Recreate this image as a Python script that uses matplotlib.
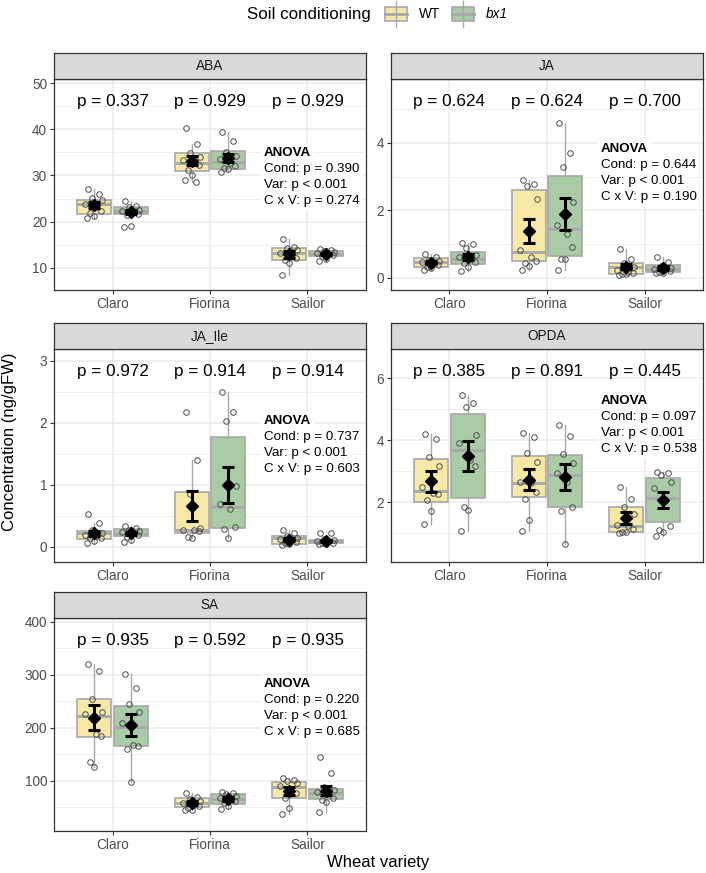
import matplotlib
matplotlib.use('Agg')
import matplotlib.pyplot as plt
import matplotlib.transforms as mtrans
from matplotlib.patches import Rectangle
from matplotlib.ticker import AutoMinorLocator

plt.rcParams['font.family'] = ['Liberation Sans', 'DejaVu Sans']

# ---------------- data ----------------
varieties = ['Claro', 'Fiorina', 'Sailor']
conditions = ['WT', 'bx1']
hormones = ['ABA', 'JA', 'JA_Ile', 'OPDA', 'SA']

# box stats per variety: [whislo, q1, median, q3, whishi]
ABA_WT_pts = [[27.1, 26.0, 25.2, 24.7, 23.8, 23.2, 22.3, 21.8, 21.2, 20.7],
              [40.2, 36.8, 34.8, 34.1, 33.4, 33.0, 32.3, 31.2, 30.1, 29.0, 28.5],
              [16.2, 14.6, 14.2, 13.8, 13.3, 12.8, 12.2, 11.8, 11.1, 8.5]]
ABA_WT_box = [[20.7, 21.65, 23.75, 24.8, 27.1], [28.5, 31.0, 32.8, 34.8, 36.8], [8.5, 11.8, 13.2, 14.2, 16.2]]
ABA_WT_mean = [23.6, 33.2, 12.9]
ABA_WT_se = [0.65, 1.0, 0.7]
ABA_BX_pts = [[24.5, 23.4, 23.1, 22.6, 22.3, 22.0, 21.7, 21.4, 19.1, 18.9],
              [39.4, 37.4, 35.0, 34.2, 33.6, 32.7, 32.0, 31.6, 31.3, 30.8],
              [14.0, 13.8, 13.6, 13.4, 13.2, 13.0, 12.8, 12.5, 12.0, 11.5]]
ABA_BX_box = [[21.4, 21.65, 22.3, 23.1, 24.5], [30.8, 31.4, 32.9, 35.3, 39.4], [11.5, 12.6, 13.0, 13.7, 14.0]]
ABA_BX_mean = [22.1, 33.8, 13.0]
ABA_BX_se = [0.5, 0.8, 0.25]

JA_WT_pts = [[0.72, 0.62, 0.54, 0.50, 0.47, 0.43, 0.38, 0.33, 0.28, 0.22],
             [2.89, 2.77, 2.71, 2.34, 0.82, 0.62, 0.49, 0.43, 0.35, 0.23],
             [0.84, 0.57, 0.43, 0.33, 0.23, 0.17, 0.13, 0.11, 0.10, 0.09]]
JA_WT_box = [[0.22, 0.33, 0.46, 0.58, 0.72], [0.23, 0.50, 0.77, 2.60, 2.89], [0.09, 0.11, 0.31, 0.43, 0.84]]
JA_WT_mean = [0.45, 1.38, 0.33]
JA_WT_se = [0.05, 0.36, 0.08]
JA_BX_pts = [[1.02, 1.00, 0.88, 0.68, 0.61, 0.55, 0.48, 0.43, 0.33, 0.20],
             [4.58, 3.69, 3.27, 2.25, 1.58, 1.30, 0.92, 0.57, 0.55, 0.23],
             [0.62, 0.47, 0.35, 0.30, 0.27, 0.25, 0.21, 0.17, 0.15, 0.13]]
JA_BX_box = [[0.20, 0.41, 0.56, 0.77, 1.02], [0.23, 0.65, 1.44, 3.01, 4.58], [0.13, 0.17, 0.27, 0.37, 0.62]]
JA_BX_mean = [0.62, 1.89, 0.29]
JA_BX_se = [0.09, 0.48, 0.05]

JAIle_WT_pts = [[0.53, 0.39, 0.27, 0.23, 0.20, 0.17, 0.15, 0.14, 0.10, 0.07],
                [2.18, 1.40, 0.85, 0.30, 0.28, 0.27, 0.25, 0.16, 0.15],
                [0.28, 0.22, 0.18, 0.15, 0.13, 0.11, 0.08, 0.06, 0.05, 0.04]]
JAIle_WT_box = [[0.07, 0.13, 0.22, 0.26, 0.39], [0.15, 0.22, 0.27, 0.89, 1.40], [0.04, 0.05, 0.14, 0.18, 0.28]]
JAIle_WT_mean = [0.22, 0.66, 0.12]
JAIle_WT_se = [0.04, 0.24, 0.025]
JAIle_BX_pts = [[0.34, 0.31, 0.27, 0.25, 0.24, 0.22, 0.19, 0.16, 0.11, 0.08],
                [2.49, 2.17, 2.03, 0.99, 0.69, 0.62, 0.33, 0.29, 0.14],
                [0.23, 0.22, 0.13, 0.11, 0.10, 0.09, 0.07, 0.06, 0.05, 0.05]]
JAIle_BX_box = [[0.08, 0.17, 0.21, 0.29, 0.34], [0.14, 0.30, 0.65, 1.77, 2.49], [0.05, 0.06, 0.09, 0.12, 0.13]]
JAIle_BX_mean = [0.22, 1.00, 0.10]
JAIle_BX_se = [0.025, 0.285, 0.02]

OPDA_WT_pts = [[4.20, 4.04, 3.47, 3.17, 2.48, 2.29, 2.26, 2.07, 1.73, 1.30],
               [4.22, 4.09, 3.60, 3.29, 2.65, 2.62, 2.34, 2.11, 1.41, 1.07],
               [2.50, 2.11, 1.86, 1.62, 1.28, 1.22, 1.12, 1.05, 1.03, 1.00]]
OPDA_WT_box = [[1.30, 2.02, 2.35, 3.39, 4.20], [1.07, 2.18, 2.61, 3.50, 4.22], [1.00, 1.05, 1.24, 1.86, 2.50]]
OPDA_WT_mean = [2.67, 2.73, 1.50]
OPDA_WT_se = [0.33, 0.34, 0.19]
OPDA_BX_pts = [[5.46, 5.19, 5.06, 4.17, 3.90, 3.36, 3.17, 1.84, 1.75, 1.07],
               [4.49, 4.14, 3.55, 3.27, 2.94, 2.64, 1.83, 1.73, 0.64],
               [2.96, 2.93, 2.88, 2.66, 2.45, 2.05, 1.24, 1.10, 1.05, 0.90]]
OPDA_BX_box = [[1.07, 2.15, 3.68, 4.84, 5.46], [0.64, 1.84, 2.88, 3.52, 4.49], [0.90, 1.37, 2.15, 2.79, 2.96]]
OPDA_BX_mean = [3.50, 2.81, 2.08]
OPDA_BX_se = [0.49, 0.41, 0.26]

SA_WT_pts = [[320, 307, 255, 230, 225, 189, 184, 135, 126],
             [76, 70, 65, 62, 58, 55, 52, 48, 45, 44],
             [106, 102, 100, 95, 90, 82, 76, 67, 48, 37]]
SA_WT_box = [[126, 183, 222, 254, 320], [44, 51, 57, 68, 76], [37, 68, 89, 98, 106]]
SA_WT_mean = [219, 57.5, 80.3]
SA_WT_se = [23, 3.5, 7]
SA_BX_pts = [[301, 274, 245, 230, 209, 167, 165, 160, 98],
             [79, 77, 75, 72, 68, 65, 62, 58, 52, 46],
             [145, 114, 89, 83, 78, 74, 68, 63, 60, 41]]
SA_BX_box = [[98, 165.5, 201, 241.5, 301], [46, 55.5, 65, 74, 79], [41, 65.5, 76, 84, 89]]
SA_BX_mean = [205, 65.4, 81.5]
SA_BX_se = [20, 3.2, 9]

pvals_ABA = ['0.337', '0.929', '0.929']
pvals_JA = ['0.624', '0.624', '0.700']
pvals_JAIle = ['0.972', '0.914', '0.914']
pvals_OPDA = ['0.385', '0.891', '0.445']
pvals_SA = ['0.935', '0.592', '0.935']

anova_ABA = ['p = 0.390', 'p < 0.001', 'p = 0.274']
anova_JA = ['p = 0.644', 'p < 0.001', 'p = 0.190']
anova_JAIle = ['p = 0.737', 'p < 0.001', 'p = 0.603']
anova_OPDA = ['p = 0.097', 'p < 0.001', 'p = 0.538']
anova_SA = ['p = 0.220', 'p < 0.001', 'p = 0.685']

# ---------------- styling / layout ----------------
W, H = 706, 873
WT_COL = '#F8E8A6'
BX_COL = '#A9CCA6'
BOX_EDGE = '#A8A8A8'
PT_EDGE = '#4D4D4D'
GRID = '#EBEBEB'
FRAME = '#333333'
TICKCOL = '#4D4D4D'

panels = [
    dict(name='ABA', wt=(ABA_WT_pts, ABA_WT_box, ABA_WT_mean, ABA_WT_se),
         bx=(ABA_BX_pts, ABA_BX_box, ABA_BX_mean, ABA_BX_se), p=pvals_ABA, an=anova_ABA,
         ylim=(5.2, 50.9), yticks=[10, 20, 30, 40, 50], rect=(54, 79, 366, 290), any=0.649),
    dict(name='JA', wt=(JA_WT_pts, JA_WT_box, JA_WT_mean, JA_WT_se),
         bx=(JA_BX_pts, JA_BX_box, JA_BX_mean, JA_BX_se), p=pvals_JA, an=anova_JA,
         ylim=(-0.36, 5.89), yticks=[0, 2, 4], rect=(391, 79, 703, 290), any=0.667),
    dict(name='JA_Ile', wt=(JAIle_WT_pts, JAIle_WT_box, JAIle_WT_mean, JAIle_WT_se),
         bx=(JAIle_BX_pts, JAIle_BX_box, JAIle_BX_mean, JAIle_BX_se), p=pvals_JAIle, an=anova_JAIle,
         ylim=(-0.237, 3.19), yticks=[0, 1, 2, 3], rect=(54, 349, 366, 561.7), any=0.662),
    dict(name='OPDA', wt=(OPDA_WT_pts, OPDA_WT_box, OPDA_WT_mean, OPDA_WT_se),
         bx=(OPDA_BX_pts, OPDA_BX_box, OPDA_BX_mean, OPDA_BX_se), p=pvals_OPDA, an=anova_OPDA,
         ylim=(0.08, 6.945), yticks=[2, 4, 6], rect=(391, 349, 703, 561.7), any=0.756),
    dict(name='SA', wt=(SA_WT_pts, SA_WT_box, SA_WT_mean, SA_WT_se),
         bx=(SA_BX_pts, SA_BX_box, SA_BX_mean, SA_BX_se), p=pvals_SA, an=anova_SA,
         ylim=(5.1, 407), yticks=[100, 200, 300, 400], rect=(54, 618, 366, 831), any=0.689),
]

jitter = [-0.06, 0.05, -0.02, 0.08, -0.09, 0.02, 0.07, -0.04, 0.0, -0.07, 0.04]
DODGE = 0.1875
BOXW = 0.35
STRIP_H = 26

fig = plt.figure(figsize=(W / 100, H / 100), dpi=100)


def frac_rect(x0, y0, x1, y1):
    return [x0 / W, 1 - y1 / H, (x1 - x0) / W, (y1 - y0) / H]


for P in panels:
    x0, y0, x1, y1 = P['rect']
    ax = fig.add_axes(frac_rect(x0, y0, x1, y1))
    ax.set_xlim(0.4, 3.6)
    ax.set_ylim(*P['ylim'])
    ax.set_xticks([1, 2, 3])
    ax.set_xticklabels(varieties)
    ax.set_yticks(P['yticks'])
    ax.yaxis.set_minor_locator(AutoMinorLocator(2))
    ax.set_axisbelow(True)
    ax.grid(which='major', color=GRID, lw=1.1)
    ax.grid(which='minor', axis='y', color=GRID, lw=0.55)
    ax.tick_params(which='minor', length=0)
    ax.tick_params(which='major', length=3, width=0.8, color=FRAME, labelcolor=TICKCOL,
                   labelsize=9.8, pad=2)
    for s in ax.spines.values():
        s.set_color(FRAME)
        s.set_linewidth(0.9)

    for cond, off, col in (('wt', -DODGE, WT_COL), ('bx', DODGE, BX_COL)):
        pts, box, mean, se = P[cond]
        positions = [i + 1 + off for i in range(3)]
        stats = [dict(whislo=b[0], q1=b[1], med=b[2], q3=b[3], whishi=b[4], fliers=[]) for b in box]
        ax.bxp(stats, positions=positions, widths=BOXW, patch_artist=True, showfliers=False,
               showcaps=False, manage_ticks=False,
               boxprops=dict(facecolor=col, edgecolor=BOX_EDGE, linewidth=1.2),
               medianprops=dict(color=BOX_EDGE, linewidth=2.0),
               whiskerprops=dict(color=BOX_EDGE, linewidth=1.0), zorder=2)
        for i, vals in enumerate(pts):
            xs = [positions[i] + jitter[k % len(jitter)] for k in range(len(vals))]
            ax.plot(xs, vals, 'o', mfc='none', mec=PT_EDGE, ms=4.0, mew=0.7, zorder=3)
        ax.errorbar(positions, mean, yerr=se, fmt='D', color='black', ms=6.5,
                    capsize=4.5, elinewidth=2.2, capthick=2.2, zorder=4)
    # x tick positions are the category centres (gridlines)
    tr = mtrans.blended_transform_factory(ax.transData, ax.transAxes)
    for i, p in enumerate(P['p']):
        ax.text(i + 1, 0.893, 'p = ' + p, transform=tr, ha='center', va='center',
                fontsize=12.3, color='black', zorder=6)
    dy = 16.0 / (y1 - y0)
    ya = P['any']
    bb = dict(facecolor='white', edgecolor='none', pad=2.2)
    ax.text(2.55, ya, 'ANOVA', transform=tr, ha='left', va='center', fontsize=9.6,
            fontweight='bold', zorder=6, bbox=bb)
    labels = ['Cond: ', 'Var: ', 'C x V: ']
    for k in range(3):
        ax.text(2.55, ya - (k + 1) * dy, labels[k] + P['an'][k], transform=tr, ha='left',
                va='center', fontsize=9.6, zorder=6, bbox=bb)

    # strip
    sx = fig.add_axes(frac_rect(x0, y0 - STRIP_H, x1, y0))
    sx.set_facecolor('#D9D9D9')
    sx.set_xticks([])
    sx.set_yticks([])
    for s in sx.spines.values():
        s.set_color(FRAME)
        s.set_linewidth(0.9)
    sx.text(0.5, 0.5, P['name'], ha='center', va='center', fontsize=9.8, color='#1A1A1A',
            transform=sx.transAxes)

# overlay in pixel coords for legend and axis titles
ov = fig.add_axes([0, 0, 1, 1], facecolor='none')
ov.set_xlim(0, W)
ov.set_ylim(H, 0)
ov.axis('off')

ov.text(378.5, 862, 'Wheat variety', ha='center', va='center', fontsize=12)
ov.text(10, 442, 'Concentration (ng/gFW)', ha='center', va='center', fontsize=12, rotation=90)

ov.text(247, 14, 'Soil conditioning', ha='left', va='center', fontsize=12.2)
for kx, col, lab, style in ((385, WT_COL, 'WT', 'normal'), (452, BX_COL, 'bx1', 'italic')):
    ov.plot([kx + 11, kx + 11], [1, 27], color=BOX_EDGE, lw=1.0)
    ov.add_patch(Rectangle((kx, 7), 22, 13.5, facecolor=col, edgecolor=BOX_EDGE, lw=1.2))
    ov.plot([kx, kx + 22], [13.75, 13.75], color=BOX_EDGE, lw=2.0)
    ov.text(kx + 34, 14, lab, ha='left', va='center', fontsize=9.8, style=style)

fig.savefig('out.png', dpi=100)
